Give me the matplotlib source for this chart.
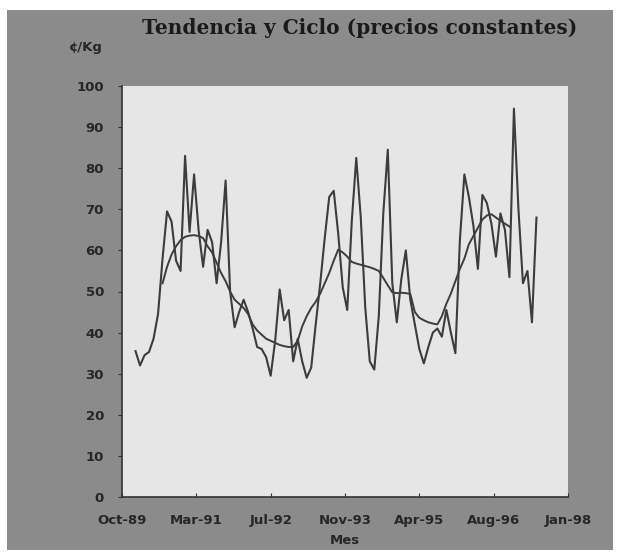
import numpy as np
import matplotlib.pyplot as plt
from matplotlib.patches import Rectangle

# precio mensual, ene-90 a jun-97 (cents/Kg)
precio = [35.5, 32, 34.5, 35.3, 38.5, 44.5, 58, 69.5, 67, 57.5,
          55, 83, 64.5, 78.5, 65, 56, 65, 62, 52, 62,
          77, 50, 41.3, 45, 48, 45, 41, 36.5, 36, 34,
          29.5, 38, 50.5, 43, 45.5, 33, 38.5, 33, 29, 31.5,
          42, 52, 63, 73, 74.5, 64, 51, 45.5, 67, 82.5,
          68, 46, 33, 31, 44, 69, 84.5, 52, 42.5, 53,
          60, 48, 42, 36, 32.5, 36.5, 40, 41, 39, 45.5,
          40, 35, 62.5, 78.5, 73, 66, 55.5, 73.5, 71.5, 66.5,
          58.5, 69, 65, 53.5, 94.5, 70, 52, 55, 42.5, 68]

# tendencia-ciclo, jul-90 a dic-96
tendencia = [52, 56, 59, 61, 62.5, 63.3, 63.6, 63.7, 63.5, 63,
             61, 59.5, 57, 54.5, 52.5, 50, 48, 47, 46, 44.5,
             42, 40.5, 39.5, 38.5, 38, 37.5, 37, 36.7, 36.5, 36.5,
             38, 41.5, 44, 46, 47.5, 49.5, 52, 54.5, 57.5, 60.2,
             59.5, 58.5, 57.2, 56.8, 56.5, 56.2, 55.9, 55.5, 55, 53.3,
             51.5, 49.8, 49.6, 49.7, 49.6, 49.4, 45, 43.6, 43, 42.5,
             42.2, 42, 44, 47, 49.5, 52.5, 55.5, 58, 61.5, 63.5,
             65.5, 67.5, 68.5, 68.8, 68, 67.2, 66.5, 65.8]

etiquetas_x = ['Oct-89', 'Mar-91', 'Jul-92', 'Nov-93', 'Apr-95', 'Aug-96', 'Jan-98']
ticks_y = list(range(0, 101, 10))

# meses contados desde oct-89
x_precio = np.arange(len(precio)) + 3
x_tend = np.arange(len(tendencia)) + 9

W, H = 618, 555
fig = plt.figure(figsize=(W/100, H/100), dpi=100, facecolor='white')
fondo = Rectangle((7/W, 5/H), 606/W, 540/H, transform=fig.transFigure,
                  facecolor='#8b8b8b', edgecolor='none', zorder=-5)
fig.add_artist(fondo)

ax = fig.add_axes([122/W, 58/H, 446/W, 411/H])
ax.set_zorder(2)
ax.set_facecolor('#e6e6e6')

ax.plot(x_precio, precio, color='#3c3c3c', lw=1.5)
ax.plot(x_tend, tendencia, color='#3c3c3c', lw=1.4)

ax.set_xlim(0, 99)
ax.set_ylim(0, 100)
ax.set_xticks(np.linspace(0, 99, 7))
ax.set_xticklabels(etiquetas_x)
ax.set_yticks(ticks_y)

for s in ['top', 'right']:
    ax.spines[s].set_visible(False)
for s in ['left', 'bottom']:
    ax.spines[s].set_color('#333333')
    ax.spines[s].set_linewidth(1.2)

ax.tick_params(axis='y', direction='out', length=3, color='#333333', pad=10)
ax.tick_params(axis='x', direction='in', length=3, color='#333333', pad=12)
for lab in ax.get_xticklabels() + ax.get_yticklabels():
    lab.set_fontfamily('DejaVu Sans')
    lab.set_fontweight('bold')
    lab.set_fontsize(9.5)
    lab.set_color('#262626')

fig.text(360/W, 1 - 28/H, 'Tendencia y Ciclo (precios constantes)',
         ha='center', va='center', fontfamily='DejaVu Serif',
         fontweight='bold', fontsize=14.5, color='#1a1a1a', zorder=3)
fig.text(86/W, 1 - 48/H, '¢/Kg', ha='center', va='center',
         fontfamily='DejaVu Sans', fontweight='bold', fontsize=9.5, color='#262626', zorder=3)
fig.text(345/W, 1 - 540/H, 'Mes', ha='center', va='center',
         fontfamily='DejaVu Sans', fontweight='bold', fontsize=9.5, color='#262626', zorder=3)

fig.savefig('out.png', dpi=100, facecolor='white')
